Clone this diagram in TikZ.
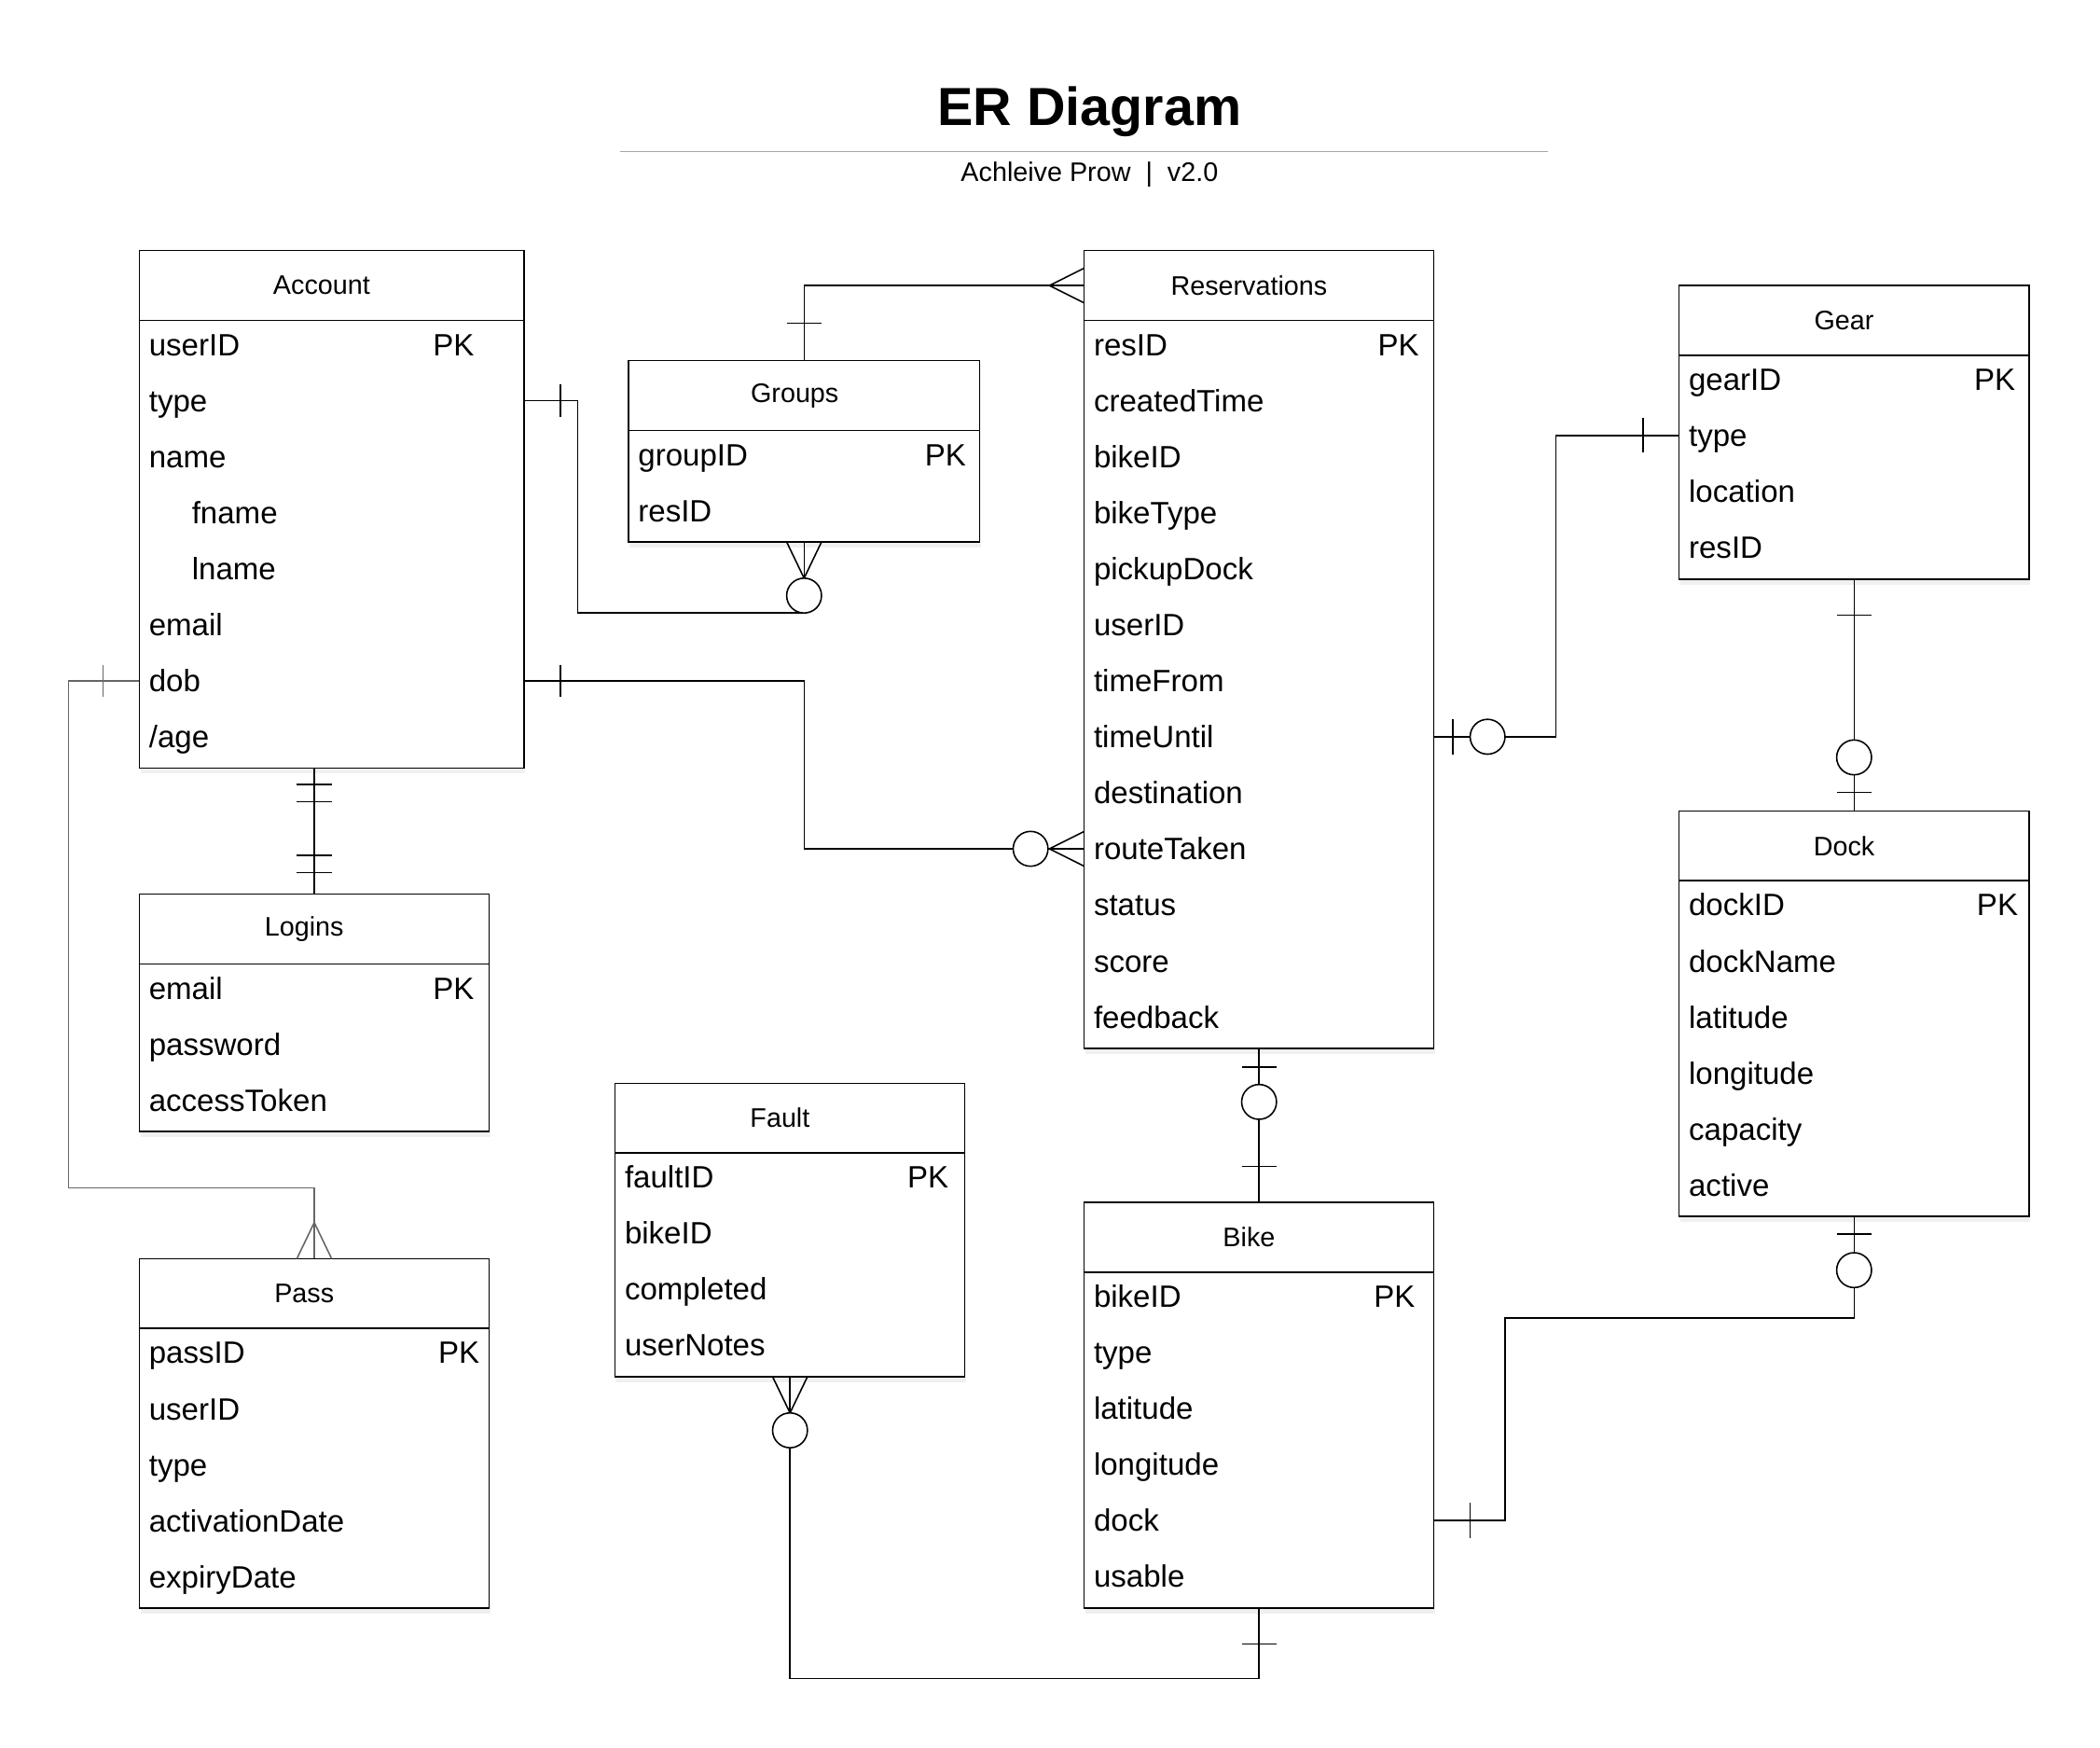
\documentclass[tikz,border=0pt]{standalone}
\usepackage{fontspec}
\setmainfont{Liberation Sans}
\usetikzlibrary{calc,shadows}

\tikzset{
  entity/.style={draw, fill=white, line width=1pt, inner sep=0pt, outer sep=0pt, anchor=north west,
    drop shadow={shadow xshift=1pt, shadow yshift=-4pt, opacity=.12}},
  head/.style={font=\fontsize{20}{24}\selectfont},
  attr/.style={font=\fontsize{23}{28}\selectfont, anchor=west, inner sep=0pt, text height=16.5pt, text depth=0pt},
  pk/.style={attr, anchor=east},
  rel/.style={line width=1.1pt},
  ring/.style={line width=1.1pt, fill=white},
}

\begin{document}
\begin{tikzpicture}[x=1pt, y=1pt]
  \useasboundingbox (0,0) rectangle (1567,-1303.3);

  % title
  \node[font=\fontsize{40}{48}\selectfont\bfseries] (title) at (813,-83) {ER Diagram};
  \draw[line width=1pt, black!35] (463,-113) -- (1155,-113);
  \node[font=\fontsize{20}{24}\selectfont] (subtitle) at (813,-130) {Achleive Prow~~|~~v2.0};

  % entities
  \node[entity, minimum width=287pt, minimum height=386pt] (account) at (104,-187) {};
  \draw[rel] ([yshift=-52pt]account.north west) -- ([yshift=-52pt]account.north east);
  \node[head] (acc-head) at (240,-213) {Account};
  \node[attr] (acc-userid) at (111,-257) {userID};
  \node[pk] at (354,-257) {PK};
  \node[attr] (acc-type) at (111,-298.8) {type};
  \node[attr] (acc-name) at (111,-340.6) {name};
  \node[attr] (acc-fname) at (143,-382.4) {fname};
  \node[attr] (acc-lname) at (143,-424.2) {lname};
  \node[attr] (acc-email) at (111,-466) {email};
  \node[attr] (acc-dob) at (111,-507.8) {dob};
  \node[attr] (acc-age) at (111,-549.6) {/age};

  \node[entity, minimum width=262pt, minimum height=135.3pt] (groups) at (469,-269) {};
  \draw[rel] ([yshift=-52pt]groups.north west) -- ([yshift=-52pt]groups.north east);
  \node[head] (grp-head) at (593,-295) {Groups};
  \node[attr] (grp-groupid) at (476,-339) {groupID};
  \node[pk] at (721,-339) {PK};
  \node[attr] (grp-resid) at (476,-380.8) {resID};

  \node[entity, minimum width=261pt, minimum height=595pt] (res) at (809,-187) {};
  \draw[rel] ([yshift=-52pt]res.north west) -- ([yshift=-52pt]res.north east);
  \node[head] (res-head) at (932,-213) {Reservations};
  \node[attr] (res-resid) at (816,-257) {resID};
  \node[pk] at (1059,-257) {PK};
  \node[attr] (res-created) at (816,-298.8) {createdTime};
  \node[attr] (res-bikeid) at (816,-340.6) {bikeID};
  \node[attr] (res-biketype) at (816,-382.4) {bikeType};
  \node[attr] (res-pickup) at (816,-424.2) {pickupDock};
  \node[attr] (res-userid) at (816,-466) {userID};
  \node[attr] (res-from) at (816,-507.8) {timeFrom};
  \node[attr] (res-until) at (816,-549.6) {timeUntil};
  \node[attr] (res-dest) at (816,-591.4) {destination};
  \node[attr] (res-route) at (816,-633.2) {routeTaken};
  \node[attr] (res-status) at (816,-675) {status};
  \node[attr] (res-score) at (816,-716.8) {score};
  \node[attr] (res-feedback) at (816,-758.6) {feedback};

  \node[entity, minimum width=261pt, minimum height=219pt] (gear) at (1253,-213) {};
  \draw[rel] ([yshift=-52pt]gear.north west) -- ([yshift=-52pt]gear.north east);
  \node[head] (gear-head) at (1376,-239) {Gear};
  \node[attr] (gear-gearid) at (1260,-283) {gearID};
  \node[pk] at (1504,-283) {PK};
  \node[attr] (gear-type) at (1260,-324.8) {type};
  \node[attr] (gear-location) at (1260,-366.6) {location};
  \node[attr] (gear-resid) at (1260,-408.4) {resID};

  \node[entity, minimum width=261pt, minimum height=302.5pt] (dock) at (1253,-605) {};
  \draw[rel] ([yshift=-52pt]dock.north west) -- ([yshift=-52pt]dock.north east);
  \node[head] (dock-head) at (1376,-631) {Dock};
  \node[attr] (dock-dockid) at (1260,-675) {dockID};
  \node[pk] at (1506,-675) {PK};
  \node[attr] (dock-name) at (1260,-716.8) {dockName};
  \node[attr] (dock-lat) at (1260,-758.6) {latitude};
  \node[attr] (dock-long) at (1260,-800.4) {longitude};
  \node[attr] (dock-cap) at (1260,-842.2) {capacity};
  \node[attr] (dock-active) at (1260,-884) {active};

  \node[entity, minimum width=261pt, minimum height=177pt] (logins) at (104,-667) {};
  \draw[rel] ([yshift=-52pt]logins.north west) -- ([yshift=-52pt]logins.north east);
  \node[head] (log-head) at (227,-693) {Logins};
  \node[attr] (log-email) at (111,-737) {email};
  \node[pk] at (354,-737) {PK};
  \node[attr] (log-password) at (111,-778.8) {password};
  \node[attr] (log-token) at (111,-820.6) {accessToken};

  \node[entity, minimum width=261pt, minimum height=260.7pt] (pass) at (104,-939) {};
  \draw[rel] ([yshift=-52pt]pass.north west) -- ([yshift=-52pt]pass.north east);
  \node[head] (pass-head) at (227,-965) {Pass};
  \node[attr] (pass-passid) at (111,-1009) {passID};
  \node[pk] at (358,-1009) {PK};
  \node[attr] (pass-userid) at (111,-1050.8) {userID};
  \node[attr] (pass-type) at (111,-1092.6) {type};
  \node[attr] (pass-activation) at (111,-1134.4) {activationDate};
  \node[attr] (pass-expiry) at (111,-1176.2) {expiryDate};

  \node[entity, minimum width=261pt, minimum height=219pt] (fault) at (459,-808) {};
  \draw[rel] ([yshift=-52pt]fault.north west) -- ([yshift=-52pt]fault.north east);
  \node[head] (fault-head) at (582,-834) {Fault};
  \node[attr] (fault-faultid) at (466,-878) {faultID};
  \node[pk] at (708,-878) {PK};
  \node[attr] (fault-bikeid) at (466,-919.8) {bikeID};
  \node[attr] (fault-completed) at (466,-961.6) {completed};
  \node[attr] (fault-notes) at (466,-1003.4) {userNotes};

  \node[entity, minimum width=261pt, minimum height=302.5pt] (bike) at (809,-897) {};
  \draw[rel] ([yshift=-52pt]bike.north west) -- ([yshift=-52pt]bike.north east);
  \node[head] (bike-head) at (932,-923) {Bike};
  \node[attr] (bike-bikeid) at (816,-967) {bikeID};
  \node[pk] at (1056,-967) {PK};
  \node[attr] (bike-type) at (816,-1008.8) {type};
  \node[attr] (bike-lat) at (816,-1050.6) {latitude};
  \node[attr] (bike-long) at (816,-1092.4) {longitude};
  \node[attr] (bike-dock) at (816,-1134.2) {dock};
  \node[attr] (bike-usable) at (816,-1176) {usable};

  % bends
  \coordinate (bend-ag) at (431,-457);
  \coordinate (bend-ap) at (51,-886);
  \coordinate (bend-ar) at (600,-633.2);
  \coordinate (bend-rg) at (1161,-324.8);
  \coordinate (bend-db) at (1123,-983);
  \coordinate (bend-fb) at (939.5,-1252);

  % relations
  \draw[rel] (account.east |- acc-type) -| (bend-ag) -| (groups.south);
  \draw[rel] (groups.north) |- ([yshift=-26pt]res.north west);
  \draw[rel, black!60] (account.west |- acc-dob) -| (bend-ap) -| (pass.north);
  \draw[rel] (account.east |- acc-dob) -| (bend-ar) -- (res.west |- res-route);
  \draw[rel] (logins.north |- account.south) -- (logins.north);
  \draw[rel] (res.east |- res-until) -| (bend-rg) -- (gear.west |- gear-type);
  \draw[rel] (gear.south) -- (dock.north);
  \draw[rel] (res.south) -- (bike.north);
  \draw[rel] (dock.south) |- (bend-db) |- (bike.east |- bike-dock);
  \draw[rel] (fault.south) |- (bend-fb) -- (bike.south);

  % account - groups
  \draw[rel] ($(account.east |- acc-type)+(27,12)$) -- ++(0,-24);
  \draw[rel] ($(groups.south)+(-13,0)$) -- ($(groups.south)+(0,-27)$) -- ($(groups.south)+(13,0)$);
  \draw[ring] ($(groups.south)+(0,-40)$) circle (13);

  % groups - reservations
  \draw[rel] ($(groups.north)+(-13,28)$) -- ++(26,0);
  \draw[rel] ($(res.north west)+(0,-13)$) -- ($(res.north west)+(-26,-26)$) -- ($(res.north west)+(0,-39)$);

  % account - pass
  \draw[rel, black!60] ($(account.west |- acc-dob)+(-27,12)$) -- ++(0,-24);
  \draw[rel, black!60] ($(pass.north)+(-13,0)$) -- ($(pass.north)+(0,27)$) -- ($(pass.north)+(13,0)$);

  % account - reservations
  \draw[rel] ($(account.east |- acc-dob)+(27,12)$) -- ++(0,-24);
  \draw[rel] ($(res.west |- res-route)+(0,13)$) -- ($(res.west |- res-route)+(-26,0)$) -- ($(res.west |- res-route)+(0,-13)$);
  \draw[ring] ($(res.west |- res-route)+(-40,0)$) circle (13);

  % account - logins
  \draw[rel] ($(logins.north |- account.south)+(-13,-12)$) -- ++(26,0);
  \draw[rel] ($(logins.north |- account.south)+(-13,-25)$) -- ++(26,0);
  \draw[rel] ($(logins.north)+(-13,16)$) -- ++(26,0);
  \draw[rel] ($(logins.north)+(-13,29)$) -- ++(26,0);

  % reservations - gear
  \draw[rel] ($(res.east |- res-until)+(14,13)$) -- ++(0,-26);
  \draw[ring] ($(res.east |- res-until)+(40,0)$) circle (13);
  \draw[rel] ($(gear.west |- gear-type)+(-27,13)$) -- ++(0,-26);

  % gear - dock
  \draw[rel] ($(gear.south)+(-13,-27)$) -- ++(26,0);
  \draw[ring] ($(dock.north)+(0,40)$) circle (13);
  \draw[rel] ($(dock.north)+(-13,14)$) -- ++(26,0);

  % reservations - bike
  \draw[rel] ($(res.south)+(-13,-14)$) -- ++(26,0);
  \draw[ring] ($(res.south)+(0,-40)$) circle (13);
  \draw[rel] ($(bike.north)+(-13,27)$) -- ++(26,0);

  % dock - bike
  \draw[rel] ($(dock.south)+(-13,-13)$) -- ++(26,0);
  \draw[ring] ($(dock.south)+(0,-40)$) circle (13);
  \draw[rel] ($(bike.east |- bike-dock)+(27,13)$) -- ++(0,-26);

  % fault - bike
  \draw[rel] ($(fault.south)+(-13,0)$) -- ($(fault.south)+(0,-27)$) -- ($(fault.south)+(13,0)$);
  \draw[ring] ($(fault.south)+(0,-40)$) circle (13);
  \draw[rel] ($(bike.south)+(-13,-27)$) -- ++(26,0);
\end{tikzpicture}
\end{document}
